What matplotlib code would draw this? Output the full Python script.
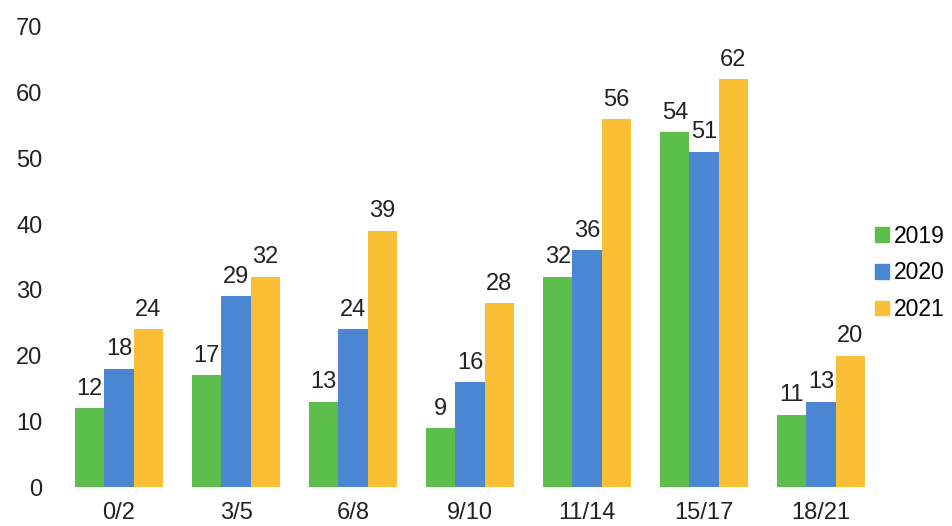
import matplotlib
matplotlib.use("Agg")
import matplotlib.pyplot as plt
import numpy as np
from matplotlib.patches import Patch

categories = ["0/2", "3/5", "6/8", "9/10", "11/14", "15/17", "18/21"]
series_names = ["2019", "2020", "2021"]
v2019 = [12, 17, 13, 9, 32, 54, 11]
v2020 = [18, 29, 24, 16, 36, 51, 13]
v2021 = [24, 32, 39, 28, 56, 62, 20]
yticks = [0, 10, 20, 30, 40, 50, 60, 70]

colors = ["#5cbf4c", "#4a86d2", "#fbbf36"]

plt.rcParams['font.family'] = ['Liberation Sans', 'DejaVu Sans']

fig = plt.figure(figsize=(9.52, 5.26), dpi=100)
ax = fig.add_axes([0.0636, 0.074, 0.8603, 0.875])

x = np.arange(len(categories))
w = 0.25
for i, (vals, c, name) in enumerate(zip([v2019, v2020, v2021], colors, series_names)):
    xs = x + (i - 1) * w
    ax.bar(xs, vals, width=w, color=c, label=name)
    for xi, v in zip(xs, vals):
        ax.annotate(str(v), (xi, v), xytext=(0, 6), textcoords="offset points",
                    ha="center", va="bottom", fontsize=17, color="#222222")

ax.set_xlim(-0.5, 6.5)
ax.set_ylim(0, 70)
ax.set_yticks(yticks)
ax.set_xticks(x)
ax.set_xticklabels(categories)
for s in ax.spines.values():
    s.set_visible(False)
ax.tick_params(axis="both", length=0, labelsize=17, colors="#222222")
ax.tick_params(axis="y", pad=13)
ax.tick_params(axis="x", pad=11)

handles = [Patch(color=c) for c in colors]
fig.legend(handles, series_names, loc="center left", bbox_to_anchor=(0.91, 0.481),
           frameon=False, fontsize=16.5, handlelength=0.6, handleheight=0.6,
           handletextpad=0.2, labelspacing=0.6, borderaxespad=0)

fig.savefig("out.png", dpi=100)
